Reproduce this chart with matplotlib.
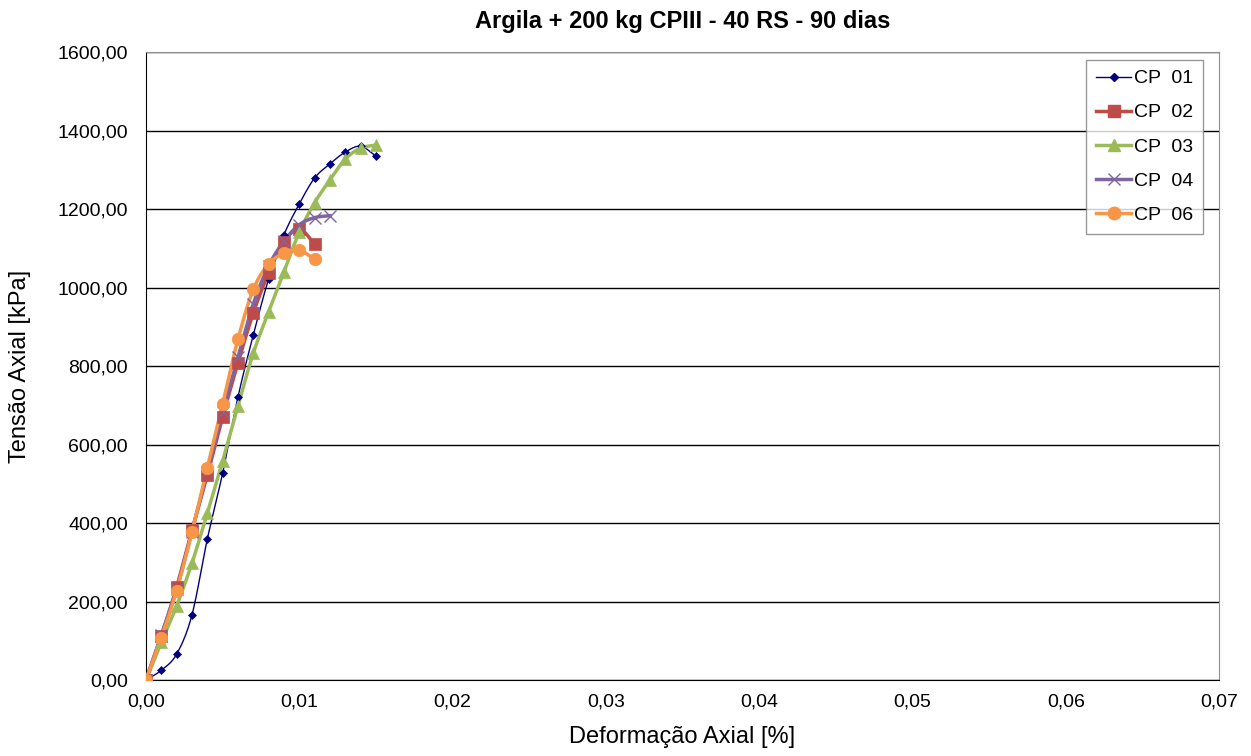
import numpy as np
import matplotlib
matplotlib.use("Agg")
import matplotlib.pyplot as plt
from matplotlib.ticker import FuncFormatter

plt.rcParams["font.family"] = ["Liberation Sans", "DejaVu Sans"]

titulo = "Argila + 200 kg CPIII - 40 RS - 90 dias"

cp01_x = [0, 0.001, 0.002, 0.003, 0.004, 0.005, 0.006, 0.007, 0.008, 0.009,
          0.010, 0.011, 0.012, 0.013, 0.014, 0.015]
cp01_y = [0, 25, 66, 166, 359, 527, 721, 879, 1022, 1134,
          1213, 1279, 1315, 1345, 1360, 1335]

cp02_x = [0, 0.001, 0.002, 0.003, 0.004, 0.005, 0.006, 0.007, 0.008, 0.009,
          0.010, 0.011]
cp02_y = [0, 112, 237, 382, 522, 670, 808, 935, 1037, 1116, 1149, 1111]

cp03_x = [0, 0.001, 0.002, 0.003, 0.004, 0.005, 0.006, 0.007, 0.008, 0.009,
          0.010, 0.011, 0.012, 0.013, 0.014, 0.015]
cp03_y = [0, 96, 189, 298, 425, 558, 698, 833, 938, 1040,
          1141, 1216, 1274, 1327, 1355, 1363]

cp04_x = [0, 0.001, 0.002, 0.003, 0.004, 0.005, 0.006, 0.007, 0.008, 0.009,
          0.010, 0.011, 0.012]
cp04_y = [0, 115, 232, 378, 530, 682, 822, 958, 1055, 1118, 1160, 1178, 1183]

cp06_x = [0, 0.001, 0.002, 0.003, 0.004, 0.005, 0.006, 0.007, 0.008, 0.009,
          0.010, 0.011]
cp06_y = [0, 108, 228, 377, 541, 703, 868, 995, 1060, 1087, 1095, 1072]


def suavizar(x, y, n=12):
    # curva Catmull-Rom passando pelos pontos (linha suavizada estilo Excel)
    x = np.asarray(x, float)
    y = np.asarray(y, float)
    px = np.concatenate([[2 * x[0] - x[1]], x, [2 * x[-1] - x[-2]]])
    py = np.concatenate([[2 * y[0] - y[1]], y, [2 * y[-1] - y[-2]]])
    xs, ys = [], []
    t = np.linspace(0, 1, n, endpoint=False)
    for i in range(1, len(px) - 2):
        for p, out in ((px, xs), (py, ys)):
            p0, p1, p2, p3 = p[i - 1], p[i], p[i + 1], p[i + 2]
            out.extend(0.5 * ((2 * p1) + (-p0 + p2) * t
                              + (2 * p0 - 5 * p1 + 4 * p2 - p3) * t ** 2
                              + (-p0 + 3 * p1 - 3 * p2 + p3) * t ** 3))
    xs.append(x[-1])
    ys.append(y[-1])
    return xs, ys


series = [
    ("CP  01", cp01_x, cp01_y, "#000080", "D", 4, 1.0),
    ("CP  02", cp02_x, cp02_y, "#BE4B48", "s", 9, 2.5),
    ("CP  03", cp03_x, cp03_y, "#9BBB59", "^", 9, 2.5),
    ("CP  04", cp04_x, cp04_y, "#8064A2", "x", 9, 2.5),
    ("CP  06", cp06_x, cp06_y, "#F79646", "o", 9, 2.5),
]

fig = plt.figure(figsize=(12.51, 7.56), dpi=100)
ax = fig.add_axes([0.1167, 0.1005, 0.8577, 0.8307])

for nome, xs, ys, cor, mk, ms, lw in series:
    sx, sy = suavizar(xs, ys)
    ax.plot(sx, sy, color=cor, lw=lw, zorder=3)
    ax.plot(xs, ys, ls="none", marker=mk, ms=ms, color=cor,
            markeredgewidth=1.0 if mk == "x" else 0.5, zorder=4)
    ax.plot([], [], color=cor, lw=lw, marker=mk, ms=ms, label=nome)

ax.set_xlim(0, 0.07)
ax.set_ylim(0, 1600)
ax.set_xticks(np.arange(0, 0.0701, 0.01))
ax.set_yticks(np.arange(0, 1601, 200))
ax.xaxis.set_major_formatter(FuncFormatter(lambda v, p: f"{v:.2f}".replace(".", ",")))
ax.yaxis.set_major_formatter(FuncFormatter(lambda v, p: f"{v:.2f}".replace(".", ",")))
ax.tick_params(labelsize=14, length=0)
ax.tick_params(axis="y", pad=13)
ax.tick_params(axis="x", pad=10)
ax.grid(axis="y", color="#000000", lw=1.0)
ax.set_axisbelow(True)
for lado in ("top", "right"):
    ax.spines[lado].set_color("#909090")
for lado in ("left", "bottom"):
    ax.spines[lado].set_color("#000000")

ax.set_xlabel("Deformação Axial [%]", fontsize=17, labelpad=11)
ax.set_ylabel("Tensão Axial [kPa]", fontsize=17, labelpad=19)
ax.set_title(titulo, fontsize=17, fontweight="bold", pad=17)

leg = ax.legend(loc="upper right", bbox_to_anchor=(0.9851, 0.9873),
                fontsize=14, frameon=True, fancybox=False,
                edgecolor="#808080", handlelength=1.8, handletextpad=0.15,
                borderaxespad=0, labelspacing=0.85, borderpad=0.5)
leg.get_frame().set_linewidth(1.0)

fig.savefig("out.png", dpi=100)
